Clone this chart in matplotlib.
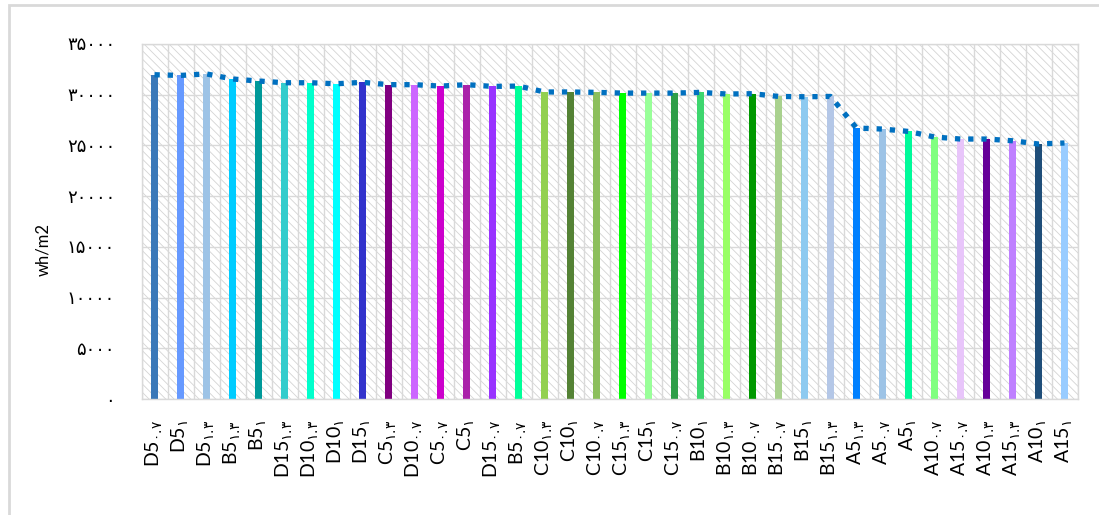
import matplotlib
matplotlib.use("Agg")
import matplotlib.pyplot as plt
from matplotlib.patches import Rectangle
import numpy as np

plt.rcParams['font.family'] = ['Lato', 'DejaVu Sans']
plt.rcParams['mathtext.fontset'] = 'dejavusans'
plt.rcParams['hatch.color'] = '#d4d4d4'
plt.rcParams['hatch.linewidth'] = 0.6

# ---- data ----
groups = ["D5", "D5", "D5", "B5", "B5", "D15", "D10", "D10", "D15", "C5",
          "D10", "C5", "C5", "D15", "B5", "C10", "C10", "C10", "C15", "C15",
          "C15", "B10", "B10", "B10", "B15", "B15", "B15", "A5", "A5", "A5",
          "A10", "A15", "A10", "A15", "A10", "A15"]
ratios = ["۰.۷", "۱", "۱.۳", "۱.۳", "۱", "۱.۳", "۱.۳", "۱", "۱", "۱.۳",
          "۰.۷", "۰.۷", "۱", "۰.۷", "۰.۷", "۱.۳", "۱", "۰.۷", "۱.۳", "۱",
          "۰.۷", "۱", "۱.۳", "۰.۷", "۰.۷", "۱", "۱.۳", "۱.۳", "۰.۷", "۱",
          "۰.۷", "۰.۷", "۱.۳", "۱.۳", "۱", "۱"]
values = [31970, 31900, 32050, 31550, 31350, 31180, 31180, 31080, 31220, 30990,
          30990, 30850, 30990, 30820, 30850, 30270, 30270, 30230, 30160, 30160,
          30160, 30230, 30070, 30100, 29830, 29800, 29830, 26715, 26615, 26380,
          25830, 25630, 25630, 25460, 25140, 25240]
colors = ["#3A78B8", "#6699FF", "#9DC3E6", "#00CCFF", "#009999", "#33CCCC",
          "#00FFCC", "#00FFFF", "#3333CC", "#800080", "#CC66FF", "#CC00CC",
          "#AA22AA", "#9933FF", "#00FF99", "#92D050", "#548235", "#8CBF5C",
          "#00FF00", "#99FF99", "#2E9E48", "#3DD66E", "#99FF66", "#009900",
          "#A9D18E", "#8ECAF0", "#B4C7E7", "#0080FF", "#9DC3E6", "#00FA9A",
          "#80FF80", "#E8C5FA", "#660099", "#BF80FF", "#1F4E79", "#99CCFF"]
yticks = [0, 5000, 10000, 15000, 20000, 25000, 30000, 35000]
ytick_labels = ["۰", "۵۰۰۰", "۱۰۰۰۰", "۱۵۰۰۰", "۲۰۰۰۰", "۲۵۰۰۰", "۳۰۰۰۰", "۳۵۰۰۰"]
ylabel = "wh/m2"

labels = [g + r"$_{\mathrm{" + r + "}}$" for g, r in zip(groups, ratios)]

W, H = 1099, 515
fig = plt.figure(figsize=(W / 100, H / 100), dpi=100)
ax = fig.add_axes([141.5 / W, 1 - 399 / H, (1077.5 - 141.5) / W, (399 - 44) / H])

x = np.arange(len(values))
ax.set_xlim(-0.5, len(values) - 0.5)
ax.set_ylim(0, 35000)

# hatched background
ax.add_patch(Rectangle((0, 0), 1, 1, transform=ax.transAxes, facecolor='white',
                       edgecolor='#d4d4d4', hatch='\\\\\\\\', lw=0, zorder=0))

# grid
for yv in yticks:
    ax.axhline(yv, color='#d9d9d9', lw=1, zorder=1)
for xb in np.arange(-0.5, len(values) + 0.5, 1):
    ax.axvline(xb, color='#d9d9d9', lw=1, zorder=1)

ax.bar(x, values, width=0.3, color=colors, zorder=2)
ax.plot(x, values, color='#0070C0', lw=3.8, linestyle=(0, (1, 1.5)), zorder=3)

for s in ax.spines.values():
    s.set_color('#d9d9d9')
    s.set_linewidth(1)

ax.set_yticks(yticks)
ax.set_yticklabels(ytick_labels, fontsize=13)
ax.set_xticks(x)
ax.set_xticklabels(labels, rotation=90, fontsize=14)
ax.tick_params(axis='y', length=0, pad=19)
ax.tick_params(axis='x', length=0, pad=15)

fig.text(43 / W, 1 - 250 / H, ylabel, rotation=90, ha='center', va='center', fontsize=12)

# chart border
fig.patches.append(Rectangle((9 / W, -0.05), 1.2, 1 - 5 / H + 0.05, transform=fig.transFigure,
                             fill=False, edgecolor='#d9d9d9', lw=2))

fig.savefig("out.png", dpi=100)
